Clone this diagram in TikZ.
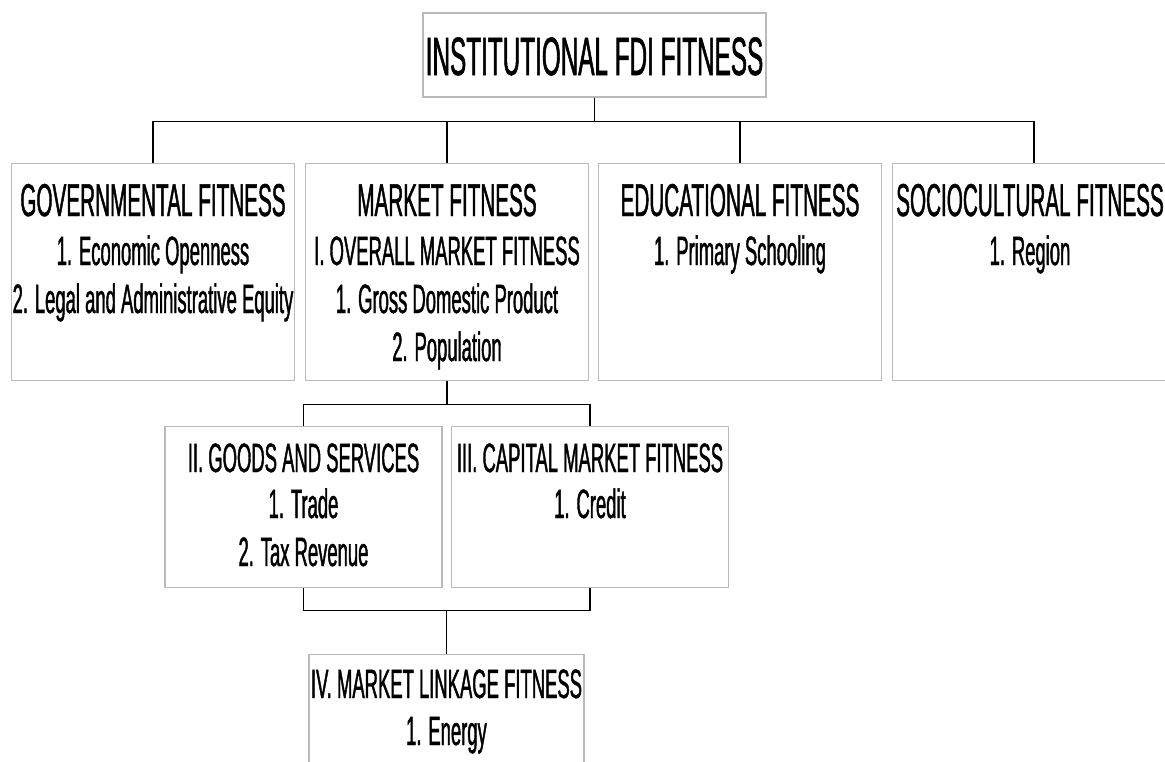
\documentclass[tikz,border=0pt]{standalone}
\usepackage{fontspec}
\setmainfont{Liberation Sans}[FakeStretch=0.45,FakeBold=1]
\begin{document}
\begin{tikzpicture}[x=1pt,y=-1pt,
  box/.style={draw=black!27, line width=1.4pt, fill=white, rectangle, inner sep=0pt},
  rowbox/.style={box, minimum width=283pt, minimum height=217pt, anchor=north},
  subbox/.style={box, minimum width=277pt, minimum height=161pt, anchor=north},
  conn/.style={draw=black, line width=1.3pt},
  ttl/.style={inner sep=0pt, anchor=base, font=\fontsize{46}{50}\selectfont},
  itm/.style={inner sep=0pt, anchor=base, font=\fontsize{41}{48}\selectfont},
  big/.style={inner sep=0pt, anchor=base, font=\fontsize{54}{58}\selectfont}]
\clip (0,0) rectangle (1165,761);
\fill[white] (0,0) rectangle (1165,761);
% top
\node[box, minimum width=343pt, minimum height=84pt] (top) at (594.5,55) {};
\node[big] (top-t) at (594.5,75) {INSTITUTIONAL FDI FITNESS};
% row 2
\node[rowbox] (gov) at (153,163) {};
\node[rowbox] (mkt) at (447,163) {};
\node[rowbox] (edu) at (740,163) {};
\node[rowbox] (soc) at (1034,163) {};
\node[ttl] (gov-t) at (153,216) {GOVERNMENTAL FITNESS};
\node[itm] (gov-1) at (153,265) {1. Economic Openness};
\node[itm] (gov-2) at (153,313) {2. Legal and Administrative Equity};
\node[ttl] (mkt-t) at (447,216) {MARKET FITNESS};
\node[itm] (mkt-s) at (447,265) {I. OVERALL MARKET FITNESS};
\node[itm] (mkt-1) at (447,313) {1. Gross Domestic Product};
\node[itm] (mkt-2) at (447,361) {2. Population};
\node[ttl] (edu-t) at (740,216) {EDUCATIONAL FITNESS};
\node[itm] (edu-1) at (740,265) {1. Primary Schooling};
\node[ttl] (soc-t) at (1030,216) {SOCIOCULTURAL FITNESS};
\node[itm] (soc-1) at (1030,265) {1. Region};
% row 3
\node[subbox] (goods) at (303.5,426) {};
\node[subbox] (cap) at (590,426) {};
\node[itm] (goods-t) at (303.5,472) {II. GOODS AND SERVICES};
\node[itm] (goods-1) at (303.5,518) {1. Trade};
\node[itm] (goods-2) at (303.5,566) {2. Tax Revenue};
\node[itm] (cap-t) at (590,472) {III. CAPITAL MARKET FITNESS};
\node[itm] (cap-1) at (590,518) {1. Credit};
% bottom
\node[box, minimum width=275pt, minimum height=150pt, anchor=north] (link) at (446.5,654) {};
\node[itm] (link-t) at (446.5,698) {IV. MARKET LINKAGE FITNESS};
\node[itm] (link-1) at (446.5,745) {1. Energy};
% connectors
\draw[conn] (top.south) -- ++(0,24) -| (gov.north);
\draw[conn] (top.south) -- ++(0,24) -| (mkt.north);
\draw[conn] (top.south) -- ++(0,24) -| (edu.north);
\draw[conn] (top.south) -- ++(0,24) -| (soc.north);
\draw[conn] (mkt.south) -- ++(0,23) -| (goods.north);
\draw[conn] (mkt.south) -- ++(0,23) -| (cap.north);
\draw[conn] (goods.south) -- ++(0,22) -| (link.north);
\draw[conn] (cap.south) -- ++(0,22) -| (link.north);
\end{tikzpicture}
\end{document}
